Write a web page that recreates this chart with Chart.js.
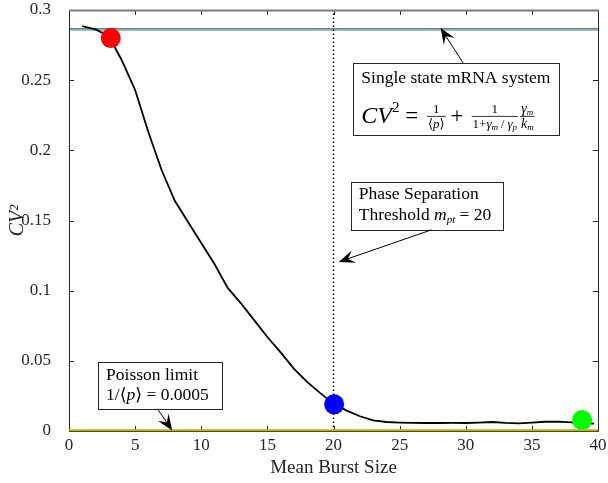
<!DOCTYPE html>
<html>
<head>
<meta charset="utf-8">
<script src="https://cdn.jsdelivr.net/npm/chart.js@4/dist/chart.umd.min.js"></script>
<style>
  html, body { margin: 0; padding: 0; background: #fff; }
  #wrap { width: 608px; height: 483px; }
</style>
</head>
<body>
<div id="wrap"><canvas id="cvChart"></canvas></div>
<script>
// mean burst size vs CV^2
const burstSize = [1, 2, 3, 4, 5, 6, 7, 8, 9, 10, 11, 12, 13, 14, 15, 16, 17, 18, 19, 20,
  21, 22, 23, 24, 25, 26, 27, 28, 29, 30, 31, 32, 33, 34, 35, 36, 37, 38, 39, 39.7]
const cv2 = [0.2885, 0.2862, 0.2815, 0.264, 0.243, 0.213, 0.186, 0.164, 0.149, 0.134,
  0.119, 0.102, 0.091, 0.079, 0.067, 0.056, 0.0445, 0.035, 0.027, 0.0195,
  0.0145, 0.0105, 0.0075, 0.0064, 0.006, 0.0058, 0.0057, 0.0057, 0.0058, 0.0057,
  0.006, 0.0064, 0.0058, 0.0055, 0.006, 0.0066, 0.0067, 0.0062, 0.0055, 0.0053]

// highlighted points
const markerX = [3.16, 20.05, 38.8]
const markerY = [0.280, 0.019, 0.0078]
const markerColors = ['#ff0000', '#0000ff', '#00ff00']

const singleStateLevel = 0.2866   // single state mRNA limit
const poissonLevel = 0.0005        // 1/<p>
const thresholdX = 20              // m_pt

const xTicks = [0, 5, 10, 15, 20, 25, 30, 35, 40]
const yTicks = [0, 0.05, 0.1, 0.15, 0.2, 0.25, 0.3]

// annotation placement in data units
const notes = {
  single: { box: [21.5, 0.2623, 37.1, 0.211], arrow: [29.8, 0.2623, 28.1, 0.2872] },
  phase: { box: [21.3, 0.1775, 32.8, 0.1433], arrow: [27.4, 0.1433, 20.4, 0.1205] },
  poisson: { box: [2.2, 0.0492, 11.6, 0.0157], arrow: [6.7, 0.0157, 7.8, 0.0004] }
}

const SERIF = '"Liberation Serif", "DejaVu Serif", serif'
const NOTE = 17.5

function pts(xs, ys) {
  return xs.map(function(x, i) { return {x: x, y: ys[i]} })
}

function arrow(ctx, x1, y1, x2, y2) {
  const ang = Math.atan2(y2 - y1, x2 - x1)
  const L = 16, W = 6.5
  ctx.strokeStyle = '#000'
  ctx.lineWidth = 1
  ctx.beginPath()
  ctx.moveTo(x1, y1)
  ctx.lineTo(x2 - Math.cos(ang) * 8, y2 - Math.sin(ang) * 8)
  ctx.stroke()
  ctx.save()
  ctx.translate(x2, y2)
  ctx.rotate(ang)
  ctx.fillStyle = '#000'
  ctx.beginPath()
  ctx.moveTo(0, 0)
  ctx.lineTo(-L, -W)
  ctx.lineTo(-L * 0.6, 0)
  ctx.lineTo(-L, W)
  ctx.closePath()
  ctx.fill()
  ctx.restore()
}

// draws a list of [text, size, italic, dy] pieces, returns width
function run(ctx, x, y, parts) {
  let cx = x
  parts.forEach(function(p) {
    ctx.font = (p[2] ? 'italic ' : '') + p[1] + 'px ' + SERIF
    ctx.fillText(p[0], cx, y + (p[3] || 0))
    cx += ctx.measureText(p[0]).width
  })
  return cx - x
}

function runWidth(ctx, parts) {
  let w = 0
  parts.forEach(function(p) {
    ctx.font = (p[2] ? 'italic ' : '') + p[1] + 'px ' + SERIF
    w += ctx.measureText(p[0]).width
  })
  return w
}

function frac(ctx, x, axisY, num, den) {
  const w = Math.max(runWidth(ctx, num), runWidth(ctx, den)) + 2
  run(ctx, x + (w - runWidth(ctx, num)) / 2, axisY - 3, num)
  run(ctx, x + (w - runWidth(ctx, den)) / 2, axisY + 12, den)
  ctx.lineWidth = 0.8
  ctx.strokeStyle = '#000'
  ctx.beginPath()
  ctx.moveTo(x, axisY + 0.5)
  ctx.lineTo(x + w, axisY + 0.5)
  ctx.stroke()
  return w
}

const framePlugin = {
  id: 'frame',
  afterDatasetsDraw(chart) {
    const ctx = chart.ctx
    const xs = chart.scales.x, ys = chart.scales.y
    const a = chart.chartArea
    ctx.save()
    // inner ticks
    ctx.strokeStyle = '#262626'
    ctx.lineWidth = 1
    ctx.beginPath()
    xTicks.forEach(function(t) {
      const px = Math.round(xs.getPixelForValue(t)) + 0.5
      ctx.moveTo(px, a.bottom); ctx.lineTo(px, a.bottom - 5)
      ctx.moveTo(px, a.top); ctx.lineTo(px, a.top + 5)
    })
    yTicks.forEach(function(t) {
      const py = Math.round(ys.getPixelForValue(t)) + 0.5
      ctx.moveTo(a.left, py); ctx.lineTo(a.left + 5, py)
      ctx.moveTo(a.right, py); ctx.lineTo(a.right - 5, py)
    })
    ctx.stroke()
    // x tick labels (drawn here so the last one may run off the edge)
    ctx.fillStyle = '#262626'
    ctx.font = '17px ' + SERIF
    ctx.textAlign = 'center'
    ctx.textBaseline = 'middle'
    xTicks.forEach(function(t) {
      ctx.fillText(String(t), xs.getPixelForValue(t), a.bottom + 15)
    })
    ctx.textAlign = 'left'
    // box
    ctx.strokeStyle = '#262626'
    ctx.beginPath()
    ctx.moveTo(a.left + 0.5, a.top)
    ctx.lineTo(a.left + 0.5, a.bottom + 0.5)
    ctx.lineTo(a.right + 0.5, a.bottom + 0.5)
    ctx.lineTo(a.right + 0.5, a.top)
    ctx.stroke()
    ctx.strokeStyle = '#7a7a7a'
    ctx.lineWidth = 2
    ctx.beginPath()
    ctx.moveTo(a.left, a.top + 0.5)
    ctx.lineTo(a.right + 1, a.top + 0.5)
    ctx.stroke()
    // poisson line over the axis
    const py0 = ys.getPixelForValue(poissonLevel)
    ctx.strokeStyle = '#b8b400'
    ctx.lineWidth = 2
    ctx.beginPath()
    ctx.moveTo(a.left, py0); ctx.lineTo(a.right, py0)
    ctx.stroke()

    // annotation boxes
    function boxPx(b) {
      return [xs.getPixelForValue(b[0]), ys.getPixelForValue(b[1]),
              xs.getPixelForValue(b[2]), ys.getPixelForValue(b[3])]
    }
    function drawBox(b) {
      const r = boxPx(b)
      ctx.fillStyle = '#fff'
      ctx.fillRect(r[0], r[1], r[2] - r[0], r[3] - r[1])
      ctx.strokeStyle = '#262626'
      ctx.lineWidth = 1
      ctx.strokeRect(Math.round(r[0]) + 0.5, Math.round(r[1]) + 0.5,
        Math.round(r[2] - r[0]), Math.round(r[3] - r[1]))
      return r
    }
    function drawArrow(v) {
      arrow(ctx, xs.getPixelForValue(v[0]), ys.getPixelForValue(v[1]),
        xs.getPixelForValue(v[2]), ys.getPixelForValue(v[3]))
    }
    ctx.fillStyle = '#000'
    ctx.textBaseline = 'alphabetic'

    let r = drawBox(notes.single.box)
    drawArrow(notes.single.arrow)
    ctx.fillStyle = '#000'
    run(ctx, r[0] + 8, r[1] + 20, [['Single state mRNA system', NOTE]])
    let fx = r[0] + 8, base = r[1] + 60, axisY = base - 7
    fx += run(ctx, fx, base, [['CV', 24, true]])
    fx += run(ctx, fx, base, [['2', 15, false, -11]])
    fx += run(ctx, fx, base, [[' = ', 23]]) + 3
    fx += frac(ctx, fx, axisY, [['1', 13]], [['\u27e8', 13], ['p', 13, true], ['\u27e9', 13]]) + 5
    fx += run(ctx, fx, base, [['+', 23]]) + 8
    fx += frac(ctx, fx, axisY, [['1', 13]],
      [['1+', 13], ['\u03b3', 13, true], ['m', 9, true, 2], [' / ', 12], ['\u03b3', 13, true], ['p', 9, true, 2]]) + 2
    frac(ctx, fx, axisY, [['\u03b3', 14, true], ['m', 9, true, 2]], [['k', 14, true], ['m', 9, true, 2]])

    r = drawBox(notes.phase.box)
    drawArrow(notes.phase.arrow)
    ctx.fillStyle = '#000'
    run(ctx, r[0] + 8, r[1] + 17, [['Phase Separation', NOTE]])
    run(ctx, r[0] + 8, r[1] + 38, [['Threshold ', NOTE], ['m', NOTE, true], ['pt', 11, true, 3], [' = 20', NOTE]])

    r = drawBox(notes.poisson.box)
    drawArrow(notes.poisson.arrow)
    ctx.fillStyle = '#000'
    run(ctx, r[0] + 8, r[1] + 18, [['Poisson limit', NOTE]])
    run(ctx, r[0] + 8, r[1] + 38, [['1/\u27e8', NOTE], ['p', NOTE, true], ['\u27e9 = 0.0005', NOTE]])
    ctx.restore()
  }
}

const chart = new Chart('cvChart', {
  type: 'scatter',
  data: {
    datasets: [
      {
        data: pts(markerX, markerY),
        pointRadius: 10,
        pointHoverRadius: 10,
        pointBorderWidth: 0,
        pointBackgroundColor: markerColors,
        showLine: false
      },
      {
        data: pts(burstSize, cv2),
        showLine: true,
        borderColor: '#000',
        borderWidth: 1.8,
        pointRadius: 0,
        tension: 0
      },
      {
        data: [{x: thresholdX, y: 0}, {x: thresholdX, y: 0.3}],
        showLine: true,
        borderColor: '#000',
        borderWidth: 1.5,
        borderDash: [1.5, 2.5],
        pointRadius: 0
      },
      {
        data: [{x: 0, y: singleStateLevel}, {x: 40, y: singleStateLevel}],
        showLine: true,
        borderColor: '#807a66',
        borderWidth: 1.5,
        pointRadius: 0
      },
      {
        data: [{x: 0, y: singleStateLevel - 0.0009}, {x: 40, y: singleStateLevel - 0.0009}],
        showLine: true,
        borderColor: '#4fb8d8',
        borderWidth: 1.2,
        pointRadius: 0
      }
    ]
  },
  options: {
    responsive: true,
    maintainAspectRatio: false,
    animation: false,
    layout: { padding: { top: 10, right: 7, left: 0, bottom: 0 } },
    plugins: {
      legend: { display: false },
      tooltip: { enabled: false }
    },
    scales: {
      x: {
        type: 'linear',
        min: 0, max: 40,
        afterFit: function(s) { s.height = 52 },
        afterBuildTicks: function(s) { s.ticks = xTicks.map(function(v) { return {value: v} }) },
        grid: { display: false },
        border: { display: false },
        ticks: { display: false },
        title: { display: true, text: 'Mean Burst Size', color: '#262626', padding: { top: 2, bottom: 4 },
          font: { family: SERIF, size: 19 } }
      },
      y: {
        min: 0, max: 0.3,
        afterFit: function(s) { s.width = 69; s.paddingTop = 0; s.paddingBottom = 0 },
        afterBuildTicks: function(s) { s.ticks = yTicks.map(function(v) { return {value: v} }) },
        grid: { display: false },
        border: { display: false },
        ticks: { color: '#262626', padding: 10, font: { family: SERIF, size: 17 },
          callback: function(v) { return String(+v.toFixed(2)) } },
        title: { display: true, text: 'CV\u00b2', color: '#262626', padding: { top: 6, bottom: 0 },
          font: { family: SERIF, size: 20, style: 'italic' } }
      }
    }
  },
  plugins: [framePlugin]
})
</script>
</body>
</html>
